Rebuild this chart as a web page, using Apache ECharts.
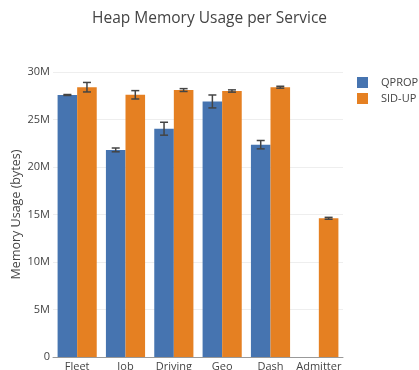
<!DOCTYPE html>
<html><head><meta charset="utf-8">
<script src="https://cdn.jsdelivr.net/npm/echarts@6/dist/echarts.min.js"></script>
<style>html,body{margin:0;padding:0;background:#fff}#c{width:419px;height:370px}</style>
</head><body><div id="c"></div>
<script>
const categories = ['Fleet', 'Job', 'Driving', 'Geo', 'Dash', 'Admitter'];
const qpropValues = [27.58e6, 21.8e6, 24.03e6, 26.9e6, 22.35e6, 0];
const qpropErrors = [0.05e6, 0.2e6, 0.68e6, 0.68e6, 0.44e6, 0];
const sidupValues = [28.4e6, 27.6e6, 28.1e6, 28.0e6, 28.4e6, 14.6e6];
const sidupErrors = [0.5e6, 0.44e6, 0.15e6, 0.12e6, 0.1e6, 0.1e6];
const seriesNames = ['QPROP', 'SID-UP'];
const yTicks = ['0', '5M', '10M', '15M', '20M', '25M', '30M'];

const GAP = 0.19;
const FONT = '"Open Sans", sans-serif';
const chart = echarts.init(document.getElementById('c'));

function errData(vals, errs, si) {
  return vals.map((v, i) => [i, v, errs[i], si]).filter(d => d[2] > 0 || d[1] > 0);
}
function renderErr(params, api) {
  const i = api.value(0), v = api.value(1), e = api.value(2), si = api.value(3);
  const c = api.coord([i, v]);
  const band = api.size([1, 0])[0];
  const bw = band * (1 - GAP) / 2;
  const x = c[0] + (si === 0 ? -bw / 2 : bw / 2);
  const yt = api.coord([i, v + e])[1];
  const yb = api.coord([i, v - e])[1];
  const hw = 4;
  const st = { stroke: '#444', lineWidth: 1.5 };
  return { type: 'group', children: [
    { type: 'line', shape: { x1: x, y1: yt, x2: x, y2: yb }, style: st },
    { type: 'line', shape: { x1: x - hw, y1: yt, x2: x + hw, y2: yt }, style: st },
    { type: 'line', shape: { x1: x - hw, y1: yb, x2: x + hw, y2: yb }, style: st }
  ]};
}

chart.setOption({
  animation: false,
  textStyle: { fontFamily: FONT },
  title: { text: 'Heap Memory Usage per Service', left: 'center', top: 6,
    textStyle: { fontFamily: FONT, fontSize: 15.5, fontWeight: 'normal', color: '#444' } },
  legend: { orient: 'vertical', left: 352, top: 72, itemWidth: 11, itemHeight: 11, itemGap: 5,
    data: seriesNames, icon: 'rect',
    textStyle: { fontFamily: FONT, fontSize: 11, color: '#444', padding: [0, 0, 0, 8] } },
  grid: { left: 53, right: 76, top: 72, bottom: 13, containLabel: false, outerBoundsMode: 'none' },
  xAxis: { type: 'category', data: categories,
    axisLine: { lineStyle: { color: '#999', width: 1 } }, axisTick: { show: false },
    axisLabel: { fontFamily: FONT, fontSize: 11, color: '#444', margin: 4, interval: 0 } },
  yAxis: { type: 'value', min: 0, max: 30e6, interval: 5e6,
    name: 'Memory Usage (bytes)', nameLocation: 'middle', nameGap: 30, nameMoveOverlap: false,
    nameTextStyle: { fontFamily: FONT, fontSize: 12.5, color: '#444' },
    axisLabel: { fontFamily: FONT, fontSize: 11, color: '#444', margin: 3,
      formatter: v => yTicks[Math.round(v / 5e6)] },
    splitLine: { lineStyle: { color: '#eee' } } },
  series: [
    { name: seriesNames[0], type: 'bar', data: qpropValues, barGap: '0%', barCategoryGap: (GAP * 100) + '%',
      itemStyle: { color: '#4674b0' } },
    { name: seriesNames[1], type: 'bar', data: sidupValues, barGap: '0%', barCategoryGap: (GAP * 100) + '%',
      itemStyle: { color: '#e58022' } },
    { type: 'custom', renderItem: renderErr, data: errData(qpropValues, qpropErrors, 0), z: 10, silent: true },
    { type: 'custom', renderItem: renderErr, data: errData(sidupValues, sidupErrors, 1), z: 10, silent: true }
  ]
});
</script></body></html>
